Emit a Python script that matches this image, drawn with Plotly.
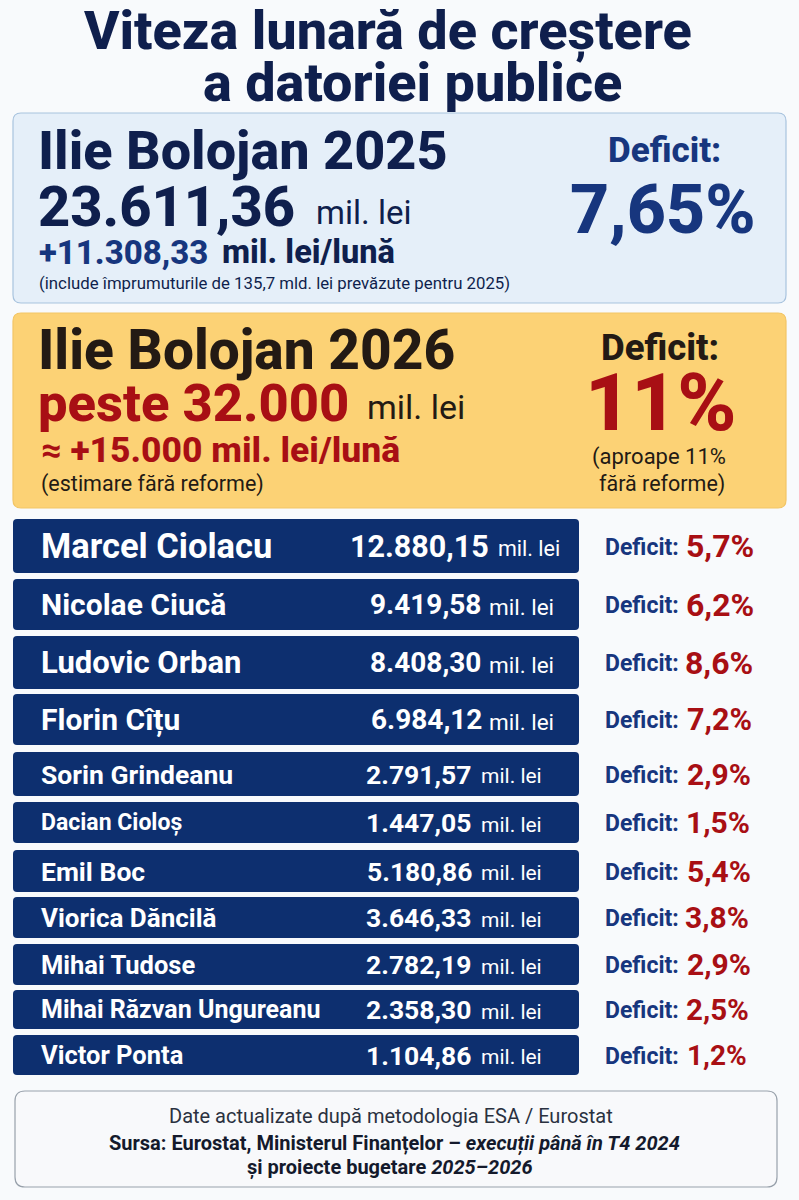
import plotly.graph_objects as go

# ---- data ----
names = ["Marcel Ciolacu", "Nicolae Ciucă", "Ludovic Orban", "Florin Cîțu", "Sorin Grindeanu",
         "Dacian Cioloș", "Emil Boc", "Viorica Dăncilă", "Mihai Tudose", "Mihai Răzvan Ungureanu", "Victor Ponta"]
amounts = ["12.880,15", "9.419,58", "8.408,30", "6.984,12", "2.791,57", "1.447,05",
           "5.180,86", "3.646,33", "2.782,19", "2.358,30", "1.104,86"]
deficits = ["5,7%", "6,2%", "8,6%", "7,2%", "2,9%", "1,5%", "5,4%", "3,8%", "2,9%", "2,5%", "1,2%"]

# ---- layout of the rows (pixels) ----
tops = [519, 579, 636, 694, 752, 802, 850, 897, 944, 990, 1035]
bots = [573, 630, 689, 745, 796, 843, 892, 938, 985, 1029, 1075]
name_sz = [34.5, 30, 31, 30, 26.5, 23, 26.5, 26, 25.5, 25, 25.5]
amt_sz = [30.5, 28, 28, 28, 26.5, 26.5, 26.5, 26.5, 26.5, 26.5, 26.5]
unit_sz = [21.5, 22.5, 22.5, 22.5, 21, 21, 21, 21, 21, 21, 21]
unit_end = [561, 555, 555, 555, 543, 543, 543, 543, 543, 543, 543]
amt_end = [490, 482, 482, 483, 472, 472, 473, 472, 472, 472, 472]
lab_sz = [23, 23, 23, 23, 23, 23, 23, 23, 23, 23, 23]
def_x = [685, 685, 684, 686, 686, 685, 686, 684, 686, 685, 686]
def_sz = [32, 32, 32, 30.5, 30, 30, 30, 30, 30, 29.5, 28]

NAVY = "#0f1f4d"
BLUE = "#17367e"
BAR = "#0d2f6f"
RED = "#a80f14"
DARK = "#231a14"
F = "Roboto"

fig = go.Figure()
centers = [(a + b) / 2 for a, b in zip(tops, bots)]
heights = [b - a for a, b in zip(tops, bots)]
fig.add_trace(go.Bar(y=centers, x=[566] * len(names), base=[13] * len(names), width=heights,
                     orientation="h", marker=dict(color=BAR, line=dict(width=0), cornerradius=4),
                     hoverinfo="skip", showlegend=False))

annotations = []
def T(x, y, s, size, color=NAVY, weight="normal", anchor="left"):
    annotations.append(dict(x=x, y=y, xref="x", yref="y", text=s, showarrow=False, xanchor=anchor,
                            yanchor="middle", borderpad=0,
                            font=dict(family=F, size=size, color=color, weight=weight)))

def panel(x0, y0, x1, y1, r, fill, line, w=1.2):
    path = (f"M{x0+r},{y0} L{x1-r},{y0} Q{x1},{y0} {x1},{y0+r} L{x1},{y1-r} Q{x1},{y1} {x1-r},{y1} "
            f"L{x0+r},{y1} Q{x0},{y1} {x0},{y1-r} L{x0},{y0+r} Q{x0},{y0} {x0+r},{y0} Z")
    return dict(type="path", path=path, fillcolor=fill, line=dict(color=line, width=w), layer="below")

shapes = [panel(13, 113, 786, 303, 8, "#e5eff9", "#a8c3de"),
          panel(13, 313, 786, 508, 8, "#fcd275", "#f2c566"),
          panel(15, 1091, 777, 1187, 10, "#f8f9fb", "#98a1ab")]

# title
T(388, 31, "Viteza lunară de creștere", 54, NAVY, 800, "center")
T(412, 82, "a datoriei publice", 54, NAVY, 800, "center")

# 2025 panel
T(37, 150, "Ilie Bolojan 2025", 54, NAVY, 800)
T(37, 207, "23.611,36", 56, NAVY, 800)
T(315, 212, "mil. lei", 33, NAVY)
T(38, 252, "+11.308,33", 33, BLUE, 800)
T(221, 252, "mil. lei/lună", 32.5, NAVY, 800)
T(38, 283, "(include împrumuturile de 135,7 mld. lei prevăzute pentru 2025)", 16.8, NAVY)
T(664, 150, "Deficit:", 35, BLUE, 800, "center")
T(663, 210, "7,65%", 68, BLUE, 800, "center")

# 2026 panel
T(37, 350, "Ilie Bolojan 2026", 55, DARK, 800)
T(37, 403, "peste 32.000", 52.5, RED, 800)
T(366, 407, "mil. lei", 34, DARK)
T(40, 450, "≈ +15.000 mil. lei/lună", 35.5, RED, 800)
T(40, 484, "(estimare fără reforme)", 21.5, DARK)
T(660, 347, "Deficit:", 36.5, DARK, 800, "center")
T(661, 403, "11%", 80, RED, 800, "center")
T(659, 457, "(aproape 11%", 22, DARK, "normal", "center")
T(662, 484, "fără reforme)", 21.5, DARK, "normal", "center")

# rows
for i, c in enumerate(centers):
    T(40, c, names[i], name_sz[i], "#ffffff", "bold")
    T(amt_end[i], c, amounts[i], amt_sz[i], "#ffffff", "bold", "right")
    T(unit_end[i], c + 2, "mil. lei", unit_sz[i], "#ffffff", "normal", "right")
    T(680, c + 1, "Deficit:", lab_sz[i], BLUE, "bold", "right")
    T(def_x[i], c, deficits[i], def_sz[i], RED, "bold")

# footer
T(391, 1116, "Date actualizate după metodologia ESA / Eurostat", 20, "#2a3140", "normal", "center")
T(394, 1143, "<b>Sursa: Eurostat, Ministerul Finanțelor – <i>execuții până în T4 2024</i></b>", 20, "#141a2c", "normal", "center")
T(390, 1167, "<b>și proiecte bugetare <i>2025–2026</i></b>", 20, "#141a2c", "normal", "center")

fig.update_layout(width=799, height=1200, margin=dict(l=0, r=0, t=0, b=0),
                  paper_bgcolor="#f8fafc", plot_bgcolor="#f8fafc",
                  xaxis=dict(range=[0, 799], visible=False, fixedrange=True),
                  yaxis=dict(range=[1200, 0], visible=False, fixedrange=True),
                  shapes=shapes, annotations=annotations, showlegend=False)
fig.write_html("out.html", config={"displayModeBar": False},
               post_script="document.body.style.margin='0';")
